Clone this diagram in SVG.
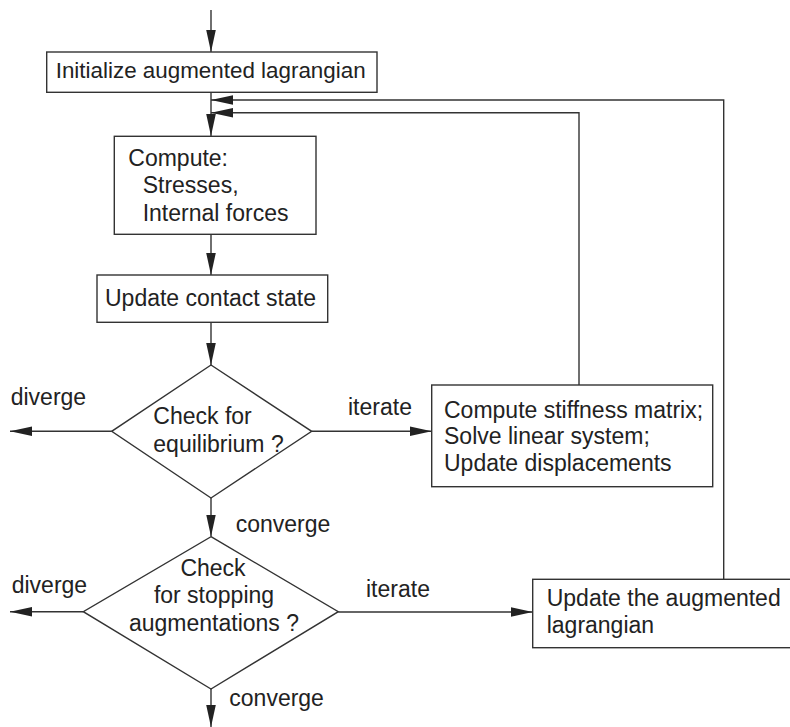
<svg xmlns="http://www.w3.org/2000/svg" width="790" height="727" viewBox="0 0 790 727">
<defs>
<style>
.box{fill:#fff;stroke:#333;stroke-width:1.4}
.ln{fill:none;stroke:#333;stroke-width:1.4}
text{font-family:"Liberation Sans",Arial,sans-serif;font-size:23px;fill:#222}
.mid{text-anchor:middle}
</style>
<marker id="ah" markerUnits="userSpaceOnUse" markerWidth="24" markerHeight="12" viewBox="-22 -6 24 12" refX="0" refY="0" orient="auto">
<path d="M0,0 L-22,-4.8 L-22,4.8 Z" fill="#222"/>
</marker>
</defs>
<g id="connectors">
<line class="ln" x1="211" y1="10" x2="211" y2="52" marker-end="url(#ah)"/>
<line class="ln" x1="211" y1="92" x2="211" y2="136" marker-end="url(#ah)"/>
<line class="ln" x1="211" y1="234" x2="211" y2="275" marker-end="url(#ah)"/>
<line class="ln" x1="211" y1="322" x2="211" y2="365" marker-end="url(#ah)"/>
<line class="ln" x1="211" y1="498" x2="211" y2="536.5" marker-end="url(#ah)"/>
<line class="ln" x1="211" y1="689" x2="211" y2="727" marker-end="url(#ah)"/>
<line class="ln" x1="111.7" y1="431.3" x2="10" y2="431.3" marker-end="url(#ah)"/>
<line class="ln" x1="311.7" y1="431.3" x2="431.7" y2="431.3" marker-end="url(#ah)"/>
<line class="ln" x1="83.3" y1="611.7" x2="10" y2="611.7" marker-end="url(#ah)"/>
<line class="ln" x1="338.3" y1="612" x2="532.7" y2="612" marker-end="url(#ah)"/>
<polyline class="ln" points="579,385 579,112.7 211,112.7" marker-end="url(#ah)"/>
<polyline class="ln" points="723.7,579.3 723.7,100 211,100" marker-end="url(#ah)"/>
<text x="10.7" y="405">diverge</text>
<text x="348" y="415">iterate</text>
<text x="235.7" y="531.7">converge</text>
<text x="11.7" y="592.7">diverge</text>
<text x="366" y="596.7">iterate</text>
<text x="229.3" y="706">converge</text>
</g>
<g id="init">
<rect class="box" x="46.7" y="52" width="330.3" height="40.3"/>
<text x="55.7" y="78" style="font-size:22.4px">Initialize augmented lagrangian</text>
</g>
<g id="compute">
<rect class="box" x="114.3" y="136.3" width="201.7" height="98"/>
<text x="128.3" y="165.7">Compute:</text>
<text x="142.7" y="193.3">Stresses,</text>
<text x="142.7" y="220.7">Internal forces</text>
</g>
<g id="contact">
<rect class="box" x="97" y="275" width="230.7" height="47.3"/>
<text x="105" y="306">Update contact state</text>
</g>
<g id="equilibrium">
<polygon class="box" points="211,365 311.7,431.3 211,498 111.7,431.3"/>
<text x="153.3" y="424.3">Check for</text>
<text x="153.3" y="451.7">equilibrium ?</text>
</g>
<g id="stiffness">
<rect class="box" x="431.7" y="385" width="281" height="101.7"/>
<text x="444" y="418.3">Compute stiffness matrix;</text>
<text x="444" y="444">Solve linear system;</text>
<text x="444" y="471">Update displacements</text>
</g>
<g id="stopping">
<polygon class="box" points="211,536.7 338.3,611.7 211,689 83.3,611.7"/>
<text class="mid" x="213" y="576">Check</text>
<text class="mid" x="214" y="603.3">for stopping</text>
<text class="mid" x="214" y="630.7">augmentations ?</text>
</g>
<g id="update-aug">
<rect class="box" x="532.7" y="579.3" width="270" height="68.4"/>
<text x="546.7" y="606">Update the augmented</text>
<text x="546.7" y="633.3">lagrangian</text>
</g>
</svg>
